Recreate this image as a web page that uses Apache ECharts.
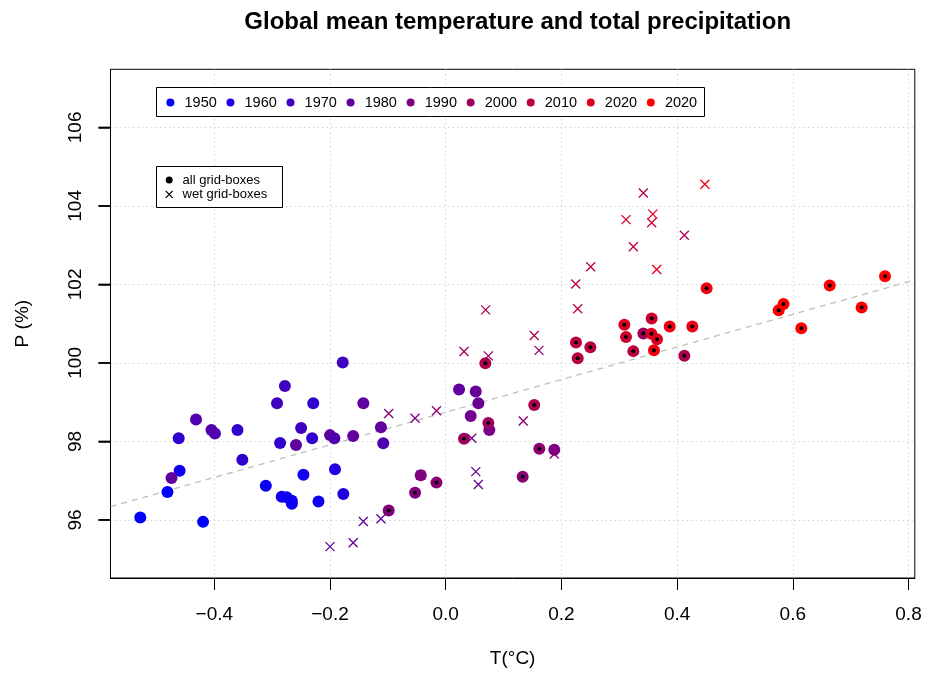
<!DOCTYPE html>
<html>
<head>
<meta charset="utf-8">
<script src="https://cdn.jsdelivr.net/npm/echarts@6/dist/echarts.min.js"></script>
<style>html,body{margin:0;padding:0;background:#fff}#c{width:933px;height:673px}</style>
</head>
<body>
<div id="c"></div>
<script>
// ---- data: all grid-boxes (circles) ----
const allT = [-0.528,-0.4195,-0.481,-0.460,-0.474,-0.4616,-0.4316,-0.405,-0.399,-0.360,-0.3516,-0.311,-0.2835,-0.275,-0.266,-0.266,-0.2916,-0.278,-0.2864,-0.2588,-0.250,-0.246,-0.231,-0.229,-0.220,-0.200,-0.1925,-0.1914,-0.177,-0.178,-0.160,-0.1424,-0.112,-0.108,0.023,0.0519,0.0564,0.0432,0.0754,-0.0432,0.1877,
  -0.0986,-0.053,-0.016,0.0737,0.0316,0.0685,0.153,0.1618,0.133,0.2252,0.25,0.2282,0.3088,0.3117,0.3416,0.356,0.3555,0.3653,0.360,0.3243,0.3872,0.4263,0.4125,0.451,0.5756,0.584,0.6147,0.6638,0.719,0.7594];
const allP = [96.06,95.95,96.71,97.25,97.07,98.08,98.56,98.29,98.20,98.29,97.53,96.87,96.59,96.58,96.49,96.41,98.97,99.41,97.96,97.91,98.34,97.15,98.08,98.97,96.47,98.16,98.08,97.29,96.66,100.01,98.14,98.97,98.36,97.95,99.32,99.27,98.97,98.65,98.29,97.14,97.79,
  96.24,96.69,96.95,98.47,98.07,99.99,98.93,97.81,97.10,100.52,100.40,100.12,100.97,100.66,100.75,101.13,100.74,100.60,100.32,100.30,100.93,100.93,100.18,101.90,101.34,101.50,100.88,101.97,101.41,102.21];
// colour position on the blue->red ramp (0 = 1950 ... 8 = 2020)
const allShade = [0,0,0,0.5,3,1.5,2.5,2.5,2.5,1.5,1.5,0.3,0.5,0.5,0.5,0.3,2,2,1.5,3,2,0.5,1.5,1.5,0.5,3,2.5,1,1,2,3,3,3,2.5,3,3.3,3.3,3.5,3.8,4,4,
  4,4,4.3,5,5,5.5,5.5,4.5,4.3,6,6,6,7,6.5,5,6.5,7,7,7.5,6,7.5,7.5,5.5,7.5,8,8,8,8,8,8];
// 1 = drawn with black centre dot
const allDot = [0,0,0,0,0,0,0,0,0,0,0,0,0,0,0,0,0,0,0,0,0,0,0,0,0,0,0,0,0,0,0,0,0,0,0,0,0,0,0,0,0,
  1,1,1,1,1,1,1,1,1,1,1,1,1,1,1,1,1,1,1,1,1,1,1,1,1,1,1,1,1,1];

// ---- data: wet grid-boxes (crosses) ----
const wetT = [-0.200,-0.160,-0.1424,-0.112,-0.0986,-0.053,-0.016,-0.0432,0.045,0.052,0.0564,0.0737,0.0316,0.069,0.134,0.153,0.1613,0.1877,0.2247,0.2282,0.2506,0.3117,0.3243,0.3416,0.356,0.358,0.3647,0.4125,0.448];
const wetP = [95.32,95.42,95.96,96.03,98.71,98.59,98.78,97.14,98.08,97.23,96.90,100.18,100.29,101.35,98.52,100.70,100.32,97.68,102.01,101.38,102.45,103.65,102.96,104.33,103.57,103.79,102.38,103.25,104.55];
const wetShade = [3,3,3,3,4,4,4.3,4,3.5,3.3,3.3,5,5,5.5,4.3,5.5,4.5,4,6,6,6,6.5,6,5.5,6.5,7,7,5.5,7.5];

// regression line (dashed)
const fitIntercept = 98.744;
const fitSlope = 4.155;

// axes
const xTicks = [-0.4,-0.2,0.0,0.2,0.4,0.6,0.8];
const yTicks = [96,98,100,102,104,106];
const yLim = [95,107];
const legendLabels = ['1950','1960','1970','1980','1990','2000','2010','2020','2020'];
const legendShade = [0,1,2,3,4,5,6,7,8];
const typeLabels = ['all grid-boxes','wet grid-boxes'];

const FONT = '"Liberation Sans", Arial, Helvetica, sans-serif';
function ramp(s){ const r = Math.round(255*s/8); return 'rgb('+r+',0,'+(255-r)+')'; }

// R-style 4% axis extension
const xr = [Math.min(...allT, ...wetT), Math.max(...allT, ...wetT)];
const xMin = xr[0] - 0.04*(xr[1]-xr[0]), xMax = xr[1] + 0.04*(xr[1]-xr[0]);
const yMin = yLim[0] - 0.04*(yLim[1]-yLim[0]), yMax = yLim[1] + 0.04*(yLim[1]-yLim[0]);

const circles = allT.map((t,i)=>({value:[t, allP[i]], itemStyle:{color:ramp(allShade[i]), opacity:1}}));
const dots = allT.map((t,i)=>[t, allP[i]]).filter((d,i)=>allDot[i]===1);
const crosses = wetT.map((t,i)=>({value:[t, wetP[i]], itemStyle:{color:'none', borderColor:ramp(wetShade[i]), borderWidth:1.3, opacity:1}}));
const fitLine = [[xMin, fitIntercept+fitSlope*xMin],[xMax, fitIntercept+fitSlope*xMax]];

const gridL = 110.5, gridT = 69.3, gridW = 804.3, gridH = 509.9;
const fmtX = v => (v<0?'\u2212':'') + Math.abs(v).toFixed(1);

const graphics = [];
graphics.push({type:'rect', shape:{x:156.5,y:87.5,width:548,height:29}, style:{fill:'#fff',stroke:'#000',lineWidth:1}, z:10});
legendLabels.forEach((lab,i)=>{
  graphics.push({type:'circle', shape:{cx:170.4+60.05*i, cy:102.5, r:4}, style:{fill:ramp(legendShade[i])}, z:11});
  graphics.push({type:'text', x:184.5+60.05*i, y:102.5, style:{text:lab, fill:'#000', font:'14.5px '+FONT, textVerticalAlign:'middle', textAlign:'left'}, z:11});
});
graphics.push({type:'rect', shape:{x:156.5,y:166.5,width:126,height:41}, style:{fill:'#fff',stroke:'#000',lineWidth:1}, z:10});
graphics.push({type:'circle', shape:{cx:169.2, cy:180, r:3.5}, style:{fill:'#000'}, z:11});
graphics.push({type:'line', shape:{x1:165.7,y1:190.8,x2:172.7,y2:197.8}, style:{stroke:'#000',lineWidth:1.2}, z:11});
graphics.push({type:'line', shape:{x1:165.7,y1:197.8,x2:172.7,y2:190.8}, style:{stroke:'#000',lineWidth:1.2}, z:11});
typeLabels.forEach((lab,i)=>{
  graphics.push({type:'text', x:182.6, y:i===0?180:194.3, style:{text:lab, fill:'#000', font:'13px '+FONT, textVerticalAlign:'middle', textAlign:'left'}, z:11});
});

const chart = echarts.init(document.getElementById('c'), null, {renderer:'canvas'});
chart.setOption({
  animation:false,
  backgroundColor:'#fff',
  title:{text:'Global mean temperature and total precipitation', left:512.7, top:5, textAlign:'center',
    textStyle:{fontFamily:FONT, fontWeight:'bold', fontSize:24, color:'#000'}},
  grid:{left:gridL, top:gridT, width:gridW, height:gridH, show:true, borderColor:'#000', borderWidth:1, backgroundColor:'transparent'},
  xAxis:{type:'value', min:xMin, max:xMax, name:'T(°C)', nameLocation:'middle', nameGap:71,
    nameTextStyle:{fontFamily:FONT, fontSize:19, color:'#000'},
    axisLine:{show:true, onZero:false, lineStyle:{color:'#000', width:1}},
    axisTick:{show:true, inside:false, length:12, customValues:xTicks, lineStyle:{color:'#000', width:1}},
    axisLabel:{customValues:xTicks, formatter:fmtX, fontFamily:FONT, fontSize:19, color:'#000', margin:27},
    splitLine:{show:true, lineStyle:{color:'#D3D3D3', width:1, type:[1.5,3]}}},
  yAxis:{type:'value', min:yMin, max:yMax, name:'P (%)', nameLocation:'middle', nameGap:78, nameRotate:90,
    nameTextStyle:{fontFamily:FONT, fontSize:19, color:'#000'},
    axisLine:{show:true, onZero:false, lineStyle:{color:'#000', width:1}},
    axisTick:{show:true, inside:false, length:12, customValues:yTicks, lineStyle:{color:'#000', width:1.5}},
    axisLabel:{customValues:yTicks, rotate:90, fontFamily:FONT, fontSize:19, color:'#000', margin:25},
    splitLine:{show:true, lineStyle:{color:'#D3D3D3', width:1, type:[1.5,3]}}},
  series:[
    {type:'line', data:fitLine, symbol:'none', z:1, silent:true,
      lineStyle:{color:'#BEBEBE', width:1.3, type:[6,5]}},
    {type:'scatter', data:crosses, symbol:'path://M0,0L10,10M10,0L0,10', symbolSize:9, z:2},
    {type:'scatter', data:circles, symbol:'circle', symbolSize:12, z:3, itemStyle:{opacity:1}},
    {type:'scatter', data:dots, symbol:'circle', symbolSize:4, z:4, itemStyle:{color:'#000', opacity:1}}
  ],
  graphic:graphics
});

// left-axis tick marks placed through the library's y scale
const tickGraphics = yTicks.map(v => {
  const py = chart.convertToPixel({yAxisIndex:0}, v);
  return {type:'line', shape:{x1:gridL-12, y1:py, x2:gridL, y2:py}, style:{stroke:'#000', lineWidth:1.5}, z:12};
});
chart.setOption({graphic: graphics.concat(tickGraphics)});
</script>
</body>
</html>
